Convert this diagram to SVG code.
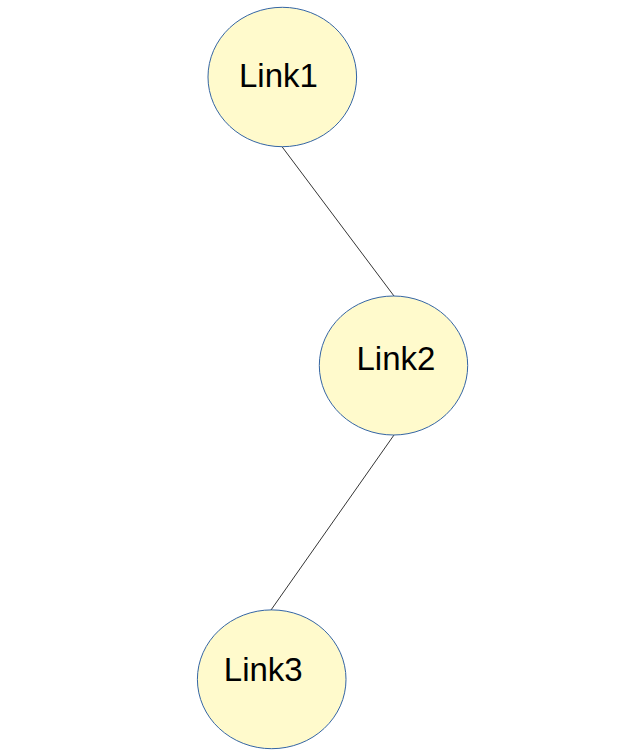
<svg xmlns="http://www.w3.org/2000/svg" width="635" height="755" viewBox="0 0 635 755">
<style>
.node{fill:#fffacc;stroke:#3465a4;stroke-width:1}
.lbl{font-family:"Liberation Sans",Arial,sans-serif;font-size:33px;fill:#000}
.edge{stroke:#000;stroke-width:0.8;fill:none}
</style>
<rect width="635" height="755" fill="#fff"/>
<g id="connectors">
<line class="edge" x1="282" y1="146.7" x2="394" y2="296"/>
<line class="edge" x1="394" y1="435" x2="271" y2="610"/>
</g>
<g id="link1">
<ellipse class="node" cx="282.3" cy="77" rx="74.3" ry="69.7"/>
<text class="lbl" x="239" y="87.3">Link1</text>
</g>
<g id="link2">
<ellipse class="node" cx="393.5" cy="365.5" rx="74.2" ry="69.5"/>
<text class="lbl" x="356.5" y="370">Link2</text>
</g>
<g id="link3">
<ellipse class="node" cx="271.7" cy="679.3" rx="74.3" ry="69.4"/>
<text class="lbl" x="223.8" y="681">Link3</text>
</g>
</svg>
